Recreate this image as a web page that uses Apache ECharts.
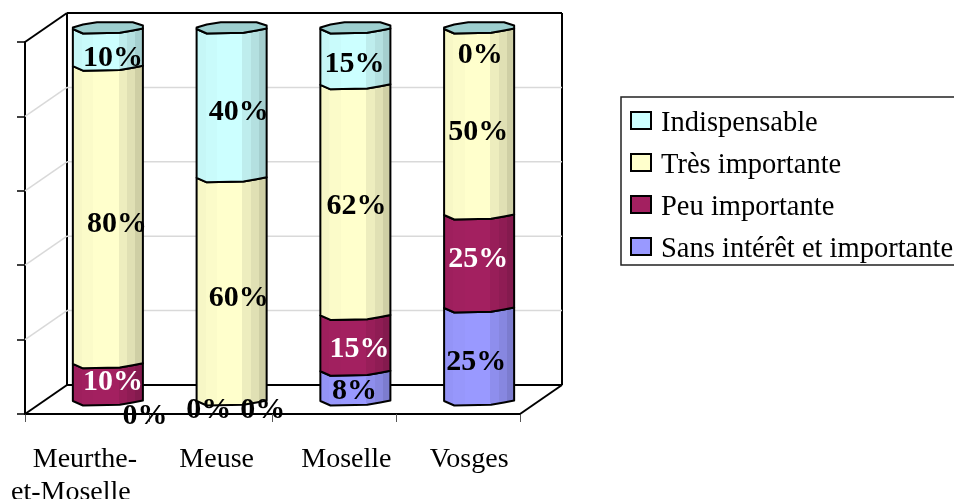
<!DOCTYPE html>
<html><head><meta charset="utf-8">
<style>html,body{margin:0;padding:0;background:#fff}#c{width:954px;height:499px}</style>
<script src="https://cdn.jsdelivr.net/npm/echarts@6/dist/echarts.min.js"></script>
</head><body><div id="c"></div>
<script>
const categories = ['Meurthe-\net-Moselle','Meuse','Moselle','Vosges'];
const sansInteret = [0,0,8,25];
const peuImportante = [10,0,15,25];
const tresImportante = [80,60,62,50];
const indispensable = [10,40,15,0];
const yTicks = [0,20,40,60,80,100];

const FONT = '"Liberation Serif","Times New Roman",serif';
const DEPTH = [42,-29];
const stacks = [
  {name:'Sans intérêt et importante', vals:sansInteret, rgb:[153,153,255], text:'#000', nudge:[[37,14.5],[-23,8.5],[-1,5],[-3,7]]},
  {name:'Peu importante', vals:peuImportante, rgb:[163,32,96], text:'#fff', nudge:[[5,-1],[31,8.5],[4,5],[-1,-3]]},
  {name:'Très importante', vals:tresImportante, rgb:[255,255,204], text:'#000', nudge:[[9,8.5],[7,8],[1,5.5],[-1,9.5]]},
  {name:'Indispensable', vals:indispensable, rgb:[204,255,255], text:'#000', nudge:[[5,10],[7,8],[-1,7],[1,25.5]]}
];
const frontEdge = [[-1,1.5],[-.71,6],[.34,5.3],[.71,3],[1,1]];
const backEdge = [[1,-2],[.71,-5.3],[-.31,-5.3],[-.71,-3],[-1,0]];
const css = (c,k)=>`rgb(${c.map(v=>Math.round(v*k)).join(',')})`;
function bands(c){
  const s=[[0,.97],[.14,.985],[.3,1],[.65,.93],[.77,.88],[.88,.81],[1,.81]], out=[];
  for(let i=0;i<s.length-1;i++){out.push({offset:s[i][0],color:css(c,s[i][1])});out.push({offset:s[i+1][0],color:css(c,s[i][1])});}
  return new echarts.graphic.LinearGradient(0,0,1,0,out);
}
function makeCylinder(st,isTop){
  return function(params,api){
    const i=api.value(0), start=api.value(1), end=api.value(2);
    const band=api.size([1,0])[0], rx=band*0.283;
    const p0=api.coord([i,start]), p1=api.coord([i,end]);
    const cx=p0[0]+DEPTH[0]/2, yb=p0[1]+DEPTH[1]/2, yt=p1[1]+DEPTH[1]/2;
    const kids=[];
    const edge=(y,list)=>list.map(q=>[cx+q[0]*rx,y+q[1]]);
    if(end>start){
      const top=edge(yt,frontEdge), bot=edge(yb,frontEdge).reverse();
      kids.push({type:'polygon',z2:5,shape:{points:top.concat(bot)},style:{fill:bands(st.rgb),stroke:'#000',lineWidth:2,lineJoin:'round'}});
    }
    if(isTop){
      const ring=edge(yt,frontEdge).concat(edge(yt,backEdge));
      kids.push({type:'polygon',z2:6,shape:{points:ring},style:{fill:'#9dcfcf',stroke:'#000',lineWidth:2,lineJoin:'round'}});
    }
    const mid=(yb+yt)/2, n=st.nudge[i], pct=end-start;
    kids.push({type:'text',z2:100,style:{x:cx+n[0],y:mid+n[1]+2,text:pct+'%',fill:pct===0?'#000':st.text,font:'bold 30px '+FONT,align:'center',verticalAlign:'middle'}});
    return {type:'group',children:kids};
  };
}
function renderFrame(params,api){
  const v=api.value(0), y=api.coord([0,v])[1], cs=params.coordSys;
  const xl=cs.x, xr=cs.x+cs.width, dx=DEPTH[0], dy=DEPTH[1];
  const edge=(v===0||v===100);
  const col=edge?'#000':'#d9d9d9', w=edge?2:1.5;
  const line=(a,b,c,d)=>({type:'line',shape:{x1:a,y1:b,x2:c,y2:d},style:{stroke:col,lineWidth:w}});
  const kids=[line(xl+dx,y+dy,xr+dx,y+dy),line(xl,y,xl+dx,y+dy)];
  if(v===0){
    kids.push(line(xr,y,xr+dx,y+dy));
    const yTop=api.coord([0,100])[1];
    kids.push(line(xl+dx,y+dy,xl+dx,yTop+dy));
    kids.push(line(xr+dx,y+dy,xr+dx,yTop+dy));
  }
  return {type:'group',children:kids};
}
const series=[{type:'custom',name:'frame',silent:true,z:1,clip:false,data:yTicks.map(v=>[v]),renderItem:renderFrame,encode:{y:0}}];
stacks.forEach((st,si)=>{
  const data=categories.map((_,i)=>{
    let s=0;for(let k=0;k<si;k++)s+=stacks[k].vals[i];
    return [i,s,s+st.vals[i]];
  });
  series.push({type:'custom',name:st.name,z:3,clip:false,silent:true,
    itemStyle:{color:css(st.rgb,1),borderColor:'#000',borderWidth:2},
    data,renderItem:makeCylinder(st,si===stacks.length-1),encode:{x:0,y:[1,2]}});
});
const base={fontFamily:'Liberation Serif',fontSize:28,color:'#000',lineHeight:33};
const labelRich={
  a:{...base,padding:[0,4,0,0]},
  b:{...base,padding:[0,32,0,0]},
  c:{...base,padding:[0,0,0,12]},
  d:{...base,padding:[0,0,0,24]},
  e:{...base,padding:[0,0,0,22]}
};
const chart=echarts.init(document.getElementById('c'),null,{renderer:'canvas'});
chart.setOption({
  animation:false,
  backgroundColor:'#fff',
  grid:{left:25,top:42,width:495,height:372,containLabel:false,outerBoundsMode:'none'},
  xAxis:{type:'category',data:categories,boundaryGap:true,
    axisLine:{lineStyle:{color:'#000',width:2}},
    axisTick:{show:true,length:8,lineStyle:{color:'#555',width:1}},
    axisLabel:{margin:29,interval:0,rich:labelRich,
      formatter:(v,i)=>{
        if(i===0){const p=v.split('\n');return `{a|${p[0]}}\n{b|${p[1]}}`;}
        return `{${'acde'[i]}|${v}}`;
      }},
    splitLine:{show:false}},
  yAxis:{type:'value',min:0,max:100,interval:20,
    axisLine:{show:true,lineStyle:{color:'#000',width:2}},
    axisTick:{show:true,length:8,lineStyle:{color:'#000',width:1.5}},
    axisLabel:{show:false},splitLine:{show:false}},
  legend:{
    left:621,top:97,orient:'vertical',
    data:stacks.map(s=>s.name).reverse(),
    icon:'rect',itemWidth:20,itemHeight:17,itemGap:7,
    padding:[6,40,1,9],
    borderColor:'#222',borderWidth:1.5,
    formatter:n=>`{t|${n}}`,
    textStyle:{rich:{t:{fontFamily:'Liberation Serif',fontSize:28.5,color:'#000',lineHeight:29,padding:[6,0,0,5]}}},
    selectedMode:false
  },
  series
});
</script></body></html>
